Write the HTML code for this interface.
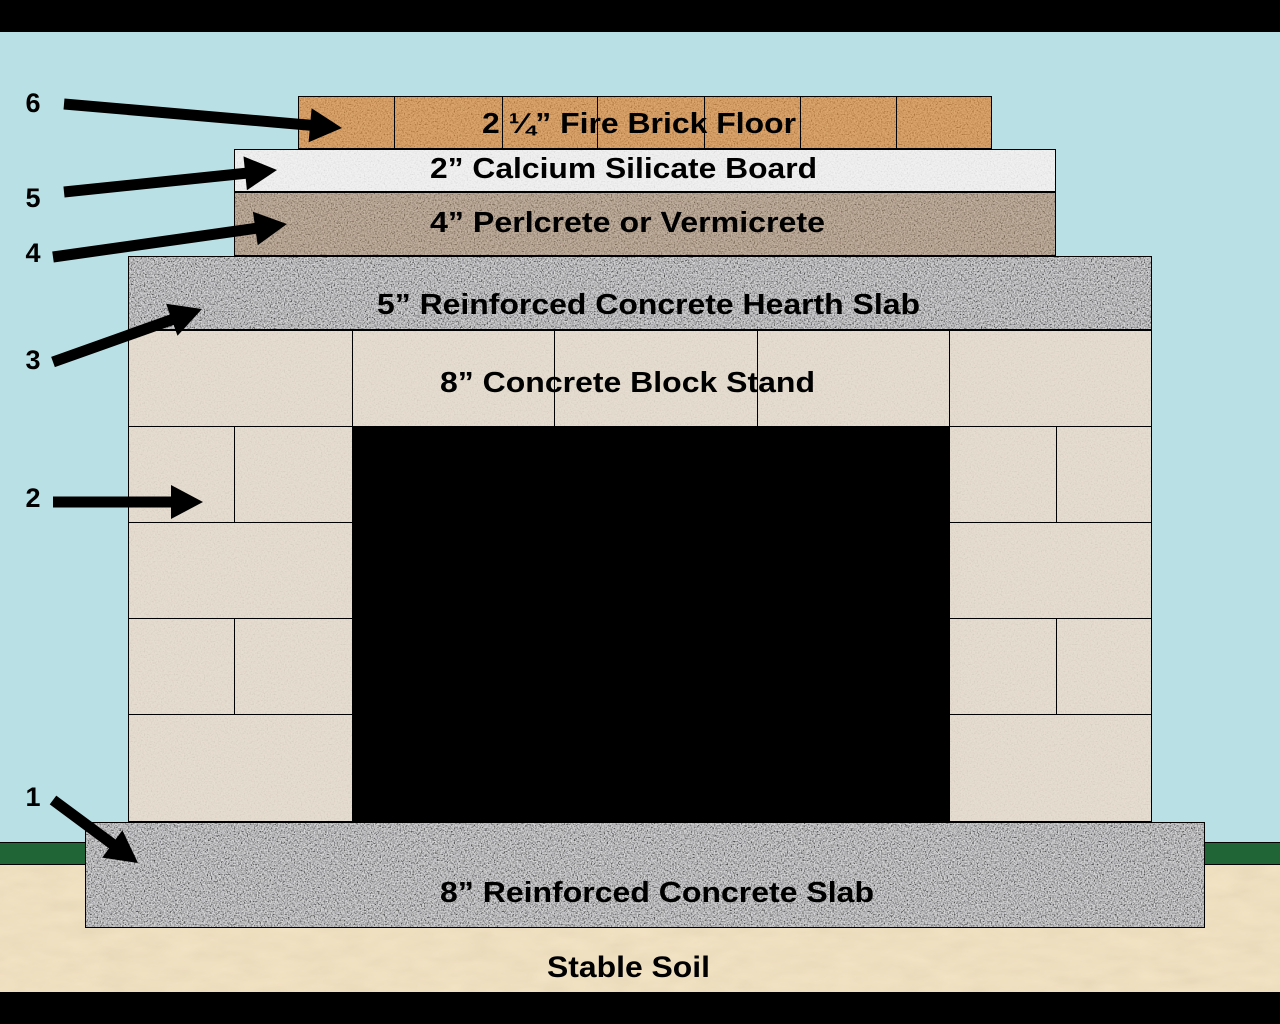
<!DOCTYPE html>
<html><head><meta charset="utf-8"><style>
html,body{margin:0;padding:0;background:#000;}
svg{display:block;}
text{font-family:"Liberation Sans",Arial,sans-serif;font-weight:bold;fill:#000;}
</style></head><body>
<svg width="1280" height="1024" viewBox="0 0 1280 1024" xmlns="http://www.w3.org/2000/svg">
<defs>
<filter id="nz" x="0" y="0" width="100%" height="100%">
<feTurbulence type="fractalNoise" baseFrequency="0.7" numOctaves="2" seed="4"/>
<feColorMatrix type="matrix" values="1.6 1.6 0 0 -1.1  1.6 1.6 0 0 -1.1  1.6 1.6 0 0 -1.1  0 0 0 0 1"/>
</filter>
<filter id="nzs" x="0" y="0" width="100%" height="100%">
<feTurbulence type="fractalNoise" baseFrequency="0.03 0.08" numOctaves="3" seed="7"/>
<feColorMatrix type="matrix" values="0.5 0.5 0 0 0.25  0.5 0.5 0 0 0.25  0.5 0.5 0 0 0.25  0 0 0 0 1"/>
</filter>
</defs>
<!-- background -->
<rect x="0" y="0" width="1280" height="1024" fill="#000"/>
<rect x="0" y="32" width="1280" height="810" fill="#b9e1e5"/>
<!-- grass -->
<rect x="0" y="842" width="1280" height="22" fill="#1f6535"/>
<line x1="0" y1="842.5" x2="1280" y2="842.5" stroke="#000" stroke-width="1"/>
<line x1="0" y1="864.5" x2="1280" y2="864.5" stroke="#000" stroke-width="1"/>
<!-- soil -->
<rect x="0" y="865" width="1280" height="127" fill="#f0dfbb"/>
<rect x="0" y="865" width="1280" height="127" filter="url(#nzs)" opacity="0.12"/>

<!-- block stand -->
<rect x="128" y="330" width="1024" height="492" fill="#e6ddcf"/>
<rect x="128" y="330" width="1024" height="492" filter="url(#nz)" opacity="0.06"/>
<rect x="352" y="426" width="597" height="396" fill="#000"/>
<g stroke="#000" stroke-width="1" fill="none">
<rect x="128.5" y="330.5" width="1023" height="491"/>
<line x1="128" y1="426.5" x2="1152" y2="426.5"/>
<line x1="128" y1="522.5" x2="352" y2="522.5"/>
<line x1="949" y1="522.5" x2="1152" y2="522.5"/>
<line x1="128" y1="618.5" x2="352" y2="618.5"/>
<line x1="949" y1="618.5" x2="1152" y2="618.5"/>
<line x1="128" y1="714.5" x2="352" y2="714.5"/>
<line x1="949" y1="714.5" x2="1152" y2="714.5"/>
<line x1="352.5" y1="330" x2="352.5" y2="822"/>
<line x1="949.5" y1="330" x2="949.5" y2="822"/>
<line x1="234.5" y1="426" x2="234.5" y2="522"/>
<line x1="234.5" y1="618" x2="234.5" y2="714"/>
<line x1="1056.5" y1="426" x2="1056.5" y2="522"/>
<line x1="1056.5" y1="618" x2="1056.5" y2="714"/>
</g>
<text x="440" y="392" font-size="29" textLength="375" lengthAdjust="spacingAndGlyphs">8” Concrete Block Stand</text>
<g stroke="#000" stroke-width="1">
<line x1="554.5" y1="330" x2="554.5" y2="426"/>
<line x1="757.5" y1="330" x2="757.5" y2="426"/>
</g>

<!-- hearth slab -->
<rect x="128" y="256" width="1024" height="74" fill="#b0b0b4"/>
<rect x="128" y="256" width="1024" height="74" filter="url(#nz)" opacity="0.55"/>
<rect x="128.5" y="256.5" width="1023" height="73" fill="none" stroke="#000" stroke-width="1"/>
<text x="377" y="314" font-size="29" textLength="543" lengthAdjust="spacingAndGlyphs">5” Reinforced Concrete Hearth Slab</text>

<!-- perlcrete -->
<rect x="234" y="192" width="822" height="64" fill="#b0967e"/>
<rect x="234" y="192" width="822" height="64" filter="url(#nz)" opacity="0.3"/>
<rect x="234.5" y="192.5" width="821" height="63" fill="none" stroke="#000" stroke-width="1"/>
<text x="430" y="232" font-size="29" textLength="395" lengthAdjust="spacingAndGlyphs">4” Perlcrete or Vermicrete</text>

<!-- calcium silicate -->
<rect x="234" y="149" width="822" height="43" fill="#f2f2f2"/>
<rect x="234" y="149" width="822" height="43" filter="url(#nz)" opacity="0.08"/>
<rect x="234.5" y="149.5" width="821" height="42" fill="none" stroke="#000" stroke-width="1"/>
<text x="430" y="178" font-size="29" textLength="387" lengthAdjust="spacingAndGlyphs">2” Calcium Silicate Board</text>

<!-- fire brick -->
<rect x="298" y="96" width="694" height="53" fill="#d8944e"/>
<rect x="298" y="96" width="694" height="53" filter="url(#nz)" opacity="0.2"/>
<text x="482" y="133" font-size="29" textLength="314" lengthAdjust="spacingAndGlyphs">2 ¼” Fire Brick Floor</text>
<g stroke="#000" stroke-width="1" fill="none">
<rect x="298.5" y="96.5" width="693" height="52"/>
<line x1="394.5" y1="96" x2="394.5" y2="149"/>
<line x1="502.5" y1="96" x2="502.5" y2="149"/>
<line x1="597.5" y1="96" x2="597.5" y2="149"/>
<line x1="704.5" y1="96" x2="704.5" y2="149"/>
<line x1="800.5" y1="96" x2="800.5" y2="149"/>
<line x1="896.5" y1="96" x2="896.5" y2="149"/>
</g>

<!-- bottom slab -->
<rect x="85" y="822" width="1120" height="106" fill="#b0b0b4"/>
<rect x="85" y="822" width="1120" height="106" filter="url(#nz)" opacity="0.55"/>
<rect x="85.5" y="822.5" width="1119" height="105" fill="none" stroke="#000" stroke-width="1"/>
<text x="440" y="902" font-size="29" textLength="434" lengthAdjust="spacingAndGlyphs">8” Reinforced Concrete Slab</text>

<text x="547" y="977" font-size="30" textLength="163" lengthAdjust="spacingAndGlyphs">Stable Soil</text>

<!-- arrows -->
<g stroke="#000" stroke-width="11" stroke-linecap="butt">
<line x1="64" y1="104" x2="312" y2="125.4"/>
<line x1="64" y1="192" x2="247" y2="173.1"/>
<line x1="53" y1="257" x2="257" y2="228.2"/>
<line x1="53" y1="362" x2="174" y2="318.9"/>
<line x1="53" y1="502" x2="173" y2="502"/>
<line x1="53" y1="800" x2="114" y2="845.2"/>
</g>
<g fill="#000">
<polygon points="308.6,142.2 342,128 311.6,108.3"/>
<polygon points="246.9,190.2 277,170 243.5,156.4"/>
<polygon points="257.7,245.3 287,224 252.9,211.7"/>
<polygon points="177.5,335.7 202,309 166.1,303.7"/>
<polygon points="171,485 203,502 171,519"/>
<polygon points="102.2,857.6 138,863 122.4,830.2"/>
</g>

<!-- numbers -->
<g font-size="27" text-anchor="middle">
<text x="33" y="112">6</text>
<text x="33" y="207">5</text>
<text x="33" y="262">4</text>
<text x="33" y="369">3</text>
<text x="33" y="507">2</text>
<text x="33" y="806">1</text>
</g>
</svg>
</body></html>
